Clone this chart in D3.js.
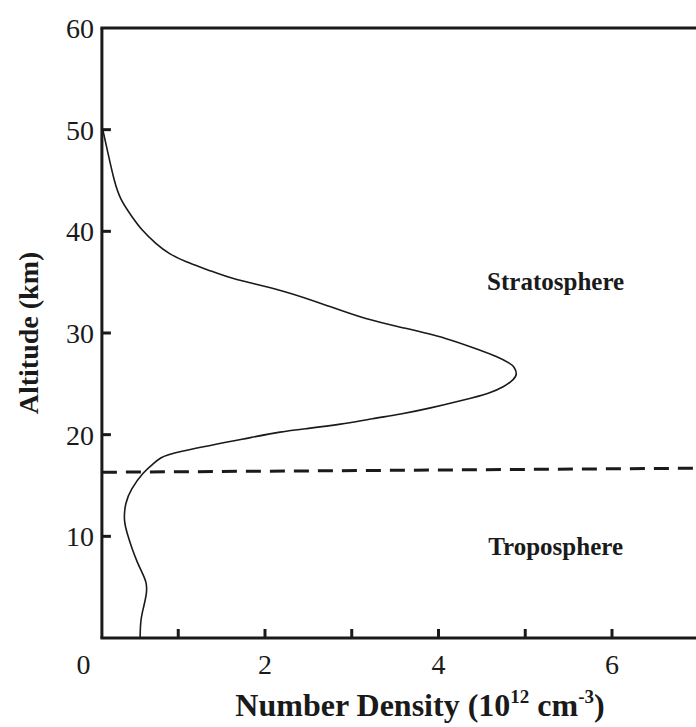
<!DOCTYPE html>
<html>
<head>
<meta charset="utf-8">
<script src="https://cdn.jsdelivr.net/npm/d3@7"></script>
<style>
  html, body { margin: 0; padding: 0; background: #fff; }
  svg { display: block; font-family: "Liberation Serif", "Times New Roman", serif; }
  .curve { fill: none; stroke: #1a1a1a; stroke-width: 1.6; }
  .frame { stroke: #1a1a1a; stroke-width: 3; fill: none; }
  .tick-label { font-size: 28px; fill: #1a1a1a; }
  .title { font-weight: bold; fill: #1a1a1a; }
  .region { font-size: 25px; font-weight: bold; fill: #1a1a1a; }
</style>
</head>
<body>
<svg id="chart" width="696" height="727"></svg>
<script>
// ozone number density profile (10^12 cm^-3) vs altitude (km)
const altitude = [0, 1.8, 3.0, 4.5, 5.5, 6.5, 7.4, 8.7, 10.3, 11.6, 13.3, 14.6, 16.35, 17.2, 17.7, 18.2,
  19.7, 20.3, 20.6, 21.0, 21.6, 22.0, 22.6, 23.4, 24.1, 24.7, 25.4, 26.0, 26.7, 27.0, 27.7, 28.3,
  29.5, 30.5, 31.4, 32.6, 34.2, 35.3, 36.2, 37.0, 37.8, 38.8, 40.1, 41.4, 43.1, 45.0, 47.3, 50];
const density = [0.56, 0.565, 0.60, 0.64, 0.635, 0.58, 0.53, 0.47, 0.41, 0.37, 0.39, 0.45, 0.60, 0.72, 0.79, 0.91,
  1.83, 2.18, 2.49, 2.87, 3.25, 3.56, 3.9, 4.29, 4.6, 4.75, 4.87, 4.91, 4.87, 4.83, 4.67, 4.48,
  4.1, 3.6, 3.14, 2.75, 2.22, 1.62, 1.35, 1.08, 0.89, 0.74, 0.58, 0.47, 0.33, 0.26, 0.2, 0.13];

const xTicks = [1, 2, 3, 4, 5, 6];
const xLabels = [0, 2, 4, 6];
const yTicks = [10, 20, 30, 40, 50];
const yLabels = [10, 20, 30, 40, 50, 60];
const tropopause = [16.3, 16.7];   // dashed boundary, left and right end
const regions = [{name: "Stratosphere", n: 5.35, a: 34.2}, {name: "Troposphere", n: 5.35, a: 8.2}];

const svg = d3.select("#chart");

const x = d3.scaleLinear().domain([0, 7]).range([91.5, 698.75]);
const y = d3.scaleLinear().domain([0, 60]).range([638, 28]);
const xStart = 0.12;   // left axis sits slightly right of zero

// frame: left, top, bottom
const left = x(xStart);
svg.append("path").attr("class", "frame")
  .attr("d", `M${left},${y(60)}V${y(0)}`);
svg.append("path").attr("class", "frame")
  .attr("d", `M${left - 1.5},${y(60)}H700`);
svg.append("path").attr("class", "frame")
  .attr("d", `M${left - 1.5},${y(0)}H700`);

// inward ticks
svg.append("g").selectAll("line").data(xTicks).enter().append("line")
  .attr("class", "frame")
  .attr("x1", d => x(d)).attr("x2", d => x(d))
  .attr("y1", y(0)).attr("y2", y(0) - 9);
svg.append("g").selectAll("line").data(yTicks).enter().append("line")
  .attr("class", "frame")
  .attr("x1", left).attr("x2", left + 9)
  .attr("y1", d => y(d)).attr("y2", d => y(d));

// tick labels
svg.append("g").selectAll("text").data(xLabels).enter().append("text")
  .attr("class", "tick-label")
  .attr("text-anchor", "middle")
  .attr("x", d => x(d) + (d === 0 ? -8 : 0))
  .attr("y", 674)
  .text(d => d);
svg.append("g").selectAll("text").data(yLabels).enter().append("text")
  .attr("class", "tick-label")
  .attr("text-anchor", "end")
  .attr("x", 94)
  .attr("y", d => y(d) + 10)
  .text(d => d);

// tropopause
svg.append("line")
  .attr("x1", left).attr("x2", 700)
  .attr("y1", y(tropopause[0])).attr("y2", y(tropopause[1]))
  .attr("stroke", "#1a1a1a").attr("stroke-width", 3)
  .attr("stroke-dasharray", "15,9");

// profile
const pts = altitude.map((a, i) => ({a: a, n: density[i]}));
const line = d3.line()
  .x(d => x(d.n))
  .y(d => y(d.a))
  .curve(d3.curveBasis);
svg.append("path").attr("class", "curve").attr("d", line(pts));

// region labels
svg.append("g").selectAll("text").data(regions).enter().append("text")
  .attr("class", "region")
  .attr("text-anchor", "middle")
  .attr("x", d => x(d.n))
  .attr("y", d => y(d.a))
  .text(d => d.name);

// axis titles
svg.append("text")
  .attr("class", "title")
  .attr("font-size", 28)
  .attr("text-anchor", "middle")
  .attr("transform", `translate(38,${y(30)}) rotate(-90)`)
  .text("Altitude (km)");

const xt = svg.append("text")
  .attr("class", "title")
  .attr("font-size", 32)
  .attr("text-anchor", "middle")
  .attr("x", 420)
  .attr("y", 716);
xt.append("tspan").text("Number Density (10");
xt.append("tspan").attr("font-size", 19).attr("dy", -13).text("12");
xt.append("tspan").attr("dy", 13).text(" cm");
xt.append("tspan").attr("font-size", 19).attr("dy", -13).text("-3");
xt.append("tspan").attr("dy", 13).text(")");
</script>
</body>
</html>
